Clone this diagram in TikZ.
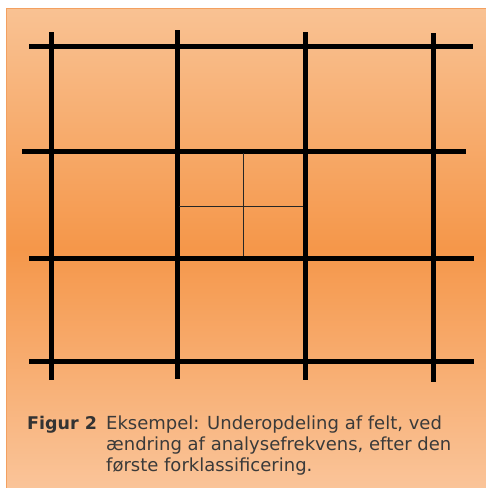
\documentclass[tikz,border=0pt]{standalone}
\usepackage{fontspec}
\setmainfont{DejaVu Sans}
\definecolor{bgtop}{HTML}{F9C293}
\definecolor{bgmid}{HTML}{F5974A}
\definecolor{bgbot}{HTML}{FAC499}
\definecolor{bgedge}{HTML}{F3A060}
\definecolor{captxt}{HTML}{3A3A3A}
\tikzset{
  thick grid/.style={line width=5pt, black},
  thin grid/.style={line width=1pt, black!85},
  caption/.style={inner sep=0pt, text=captxt, font=\fontsize{18}{21}\selectfont, anchor=base west}
}
\begin{document}
\begin{tikzpicture}[x=1pt,y=-1pt]
\useasboundingbox (0,0) rectangle (486,488);
\fill[white] (0,0) rectangle (486,488);
\shade[top color=bgtop, bottom color=bgbot, middle color=bgmid] (6,8) rectangle (486,488);
\draw[bgedge, line width=1pt] (6,488) -- (6,8) -- (486,8);
% thick horizontal lines
\draw[thick grid] (29,46) -- (473,46);
\draw[thick grid] (22,151) -- (466,151);
\draw[thick grid] (29,258) -- (474,258);
\draw[thick grid] (29,361) -- (474,361);
% thick vertical lines
\draw[thick grid] (51,32) -- (51,380);
\draw[thick grid] (177,30) -- (177,379);
\draw[thick grid] (305,32) -- (305,380);
\draw[thick grid] (433,33) -- (433,382);
% thin subdivision
\draw[thin grid] (243,153) -- (243,256);
\draw[thin grid] (179,206) -- (303,206);
% caption
\node[caption, font=\fontsize{17.5}{21}\selectfont\bfseries, text=black!80] (figlabel) at (27,429) {Figur 2};
\node[caption] (line1) at (106,429) {Eksempel: Underopdeling af felt, ved};
\node[caption] (line2) at (106,450) {ændring af analysefrekvens, efter den};
\node[caption] (line3) at (106,471) {første forklassificering.};
\end{tikzpicture}
\end{document}
